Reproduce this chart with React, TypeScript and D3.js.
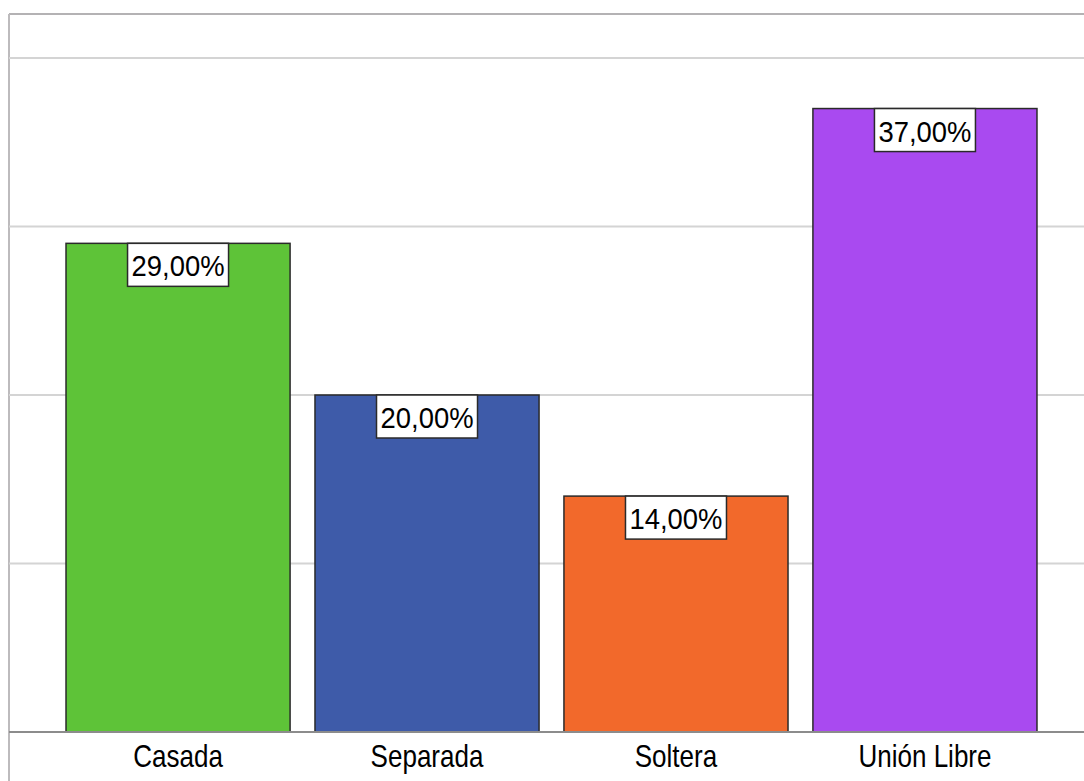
import React from "react";
import * as d3 from "d3";

const categories = ["Casada", "Separada", "Soltera", "Unión Libre"];
const values = [29, 20, 14, 37];
const valueLabels = ["29,00%", "20,00%", "14,00%", "37,00%"];
const colors = ["#5ec338", "#3e5ba9", "#f2692b", "#a94af0"];
const gridTicks = [0, 10, 20, 30, 40];

const W = 1084;
const H = 781;

export default function App() {
  const x = d3
    .scaleBand<string>()
    .domain(categories)
    .range([9, 1094])
    .paddingInner(0.1)
    .paddingOuter(0.229);
  const y = d3.scaleLinear().domain([0, 40]).range([732, 58]);
  const frameTop = 14;
  const left = 9;

  return (
    <svg
      width={W}
      height={H}
      style={{ position: "absolute", left: 0, top: 0, background: "#fff" }}
      fontFamily="'Liberation Sans', Arial, sans-serif"
    >
      {/* frame */}
      <line x1={left} x2={W} y1={frameTop} y2={frameTop} stroke="#b4b2b4" strokeWidth={2} />
      <line x1={left} x2={left} y1={frameTop} y2={H} stroke="#bdbbbd" strokeWidth={2} />
      {/* gridlines */}
      {gridTicks
        .filter((t) => t > 0)
        .map((t) => (
          <line key={t} x1={left} x2={W} y1={y(t)} y2={y(t)} stroke="#d4d4d4" strokeWidth={2} />
        ))}
      {/* bars */}
      {categories.map((c, i) => (
        <rect
          key={c}
          x={x(c)!}
          y={y(values[i])}
          width={x.bandwidth()}
          height={y(0) - y(values[i])}
          fill={colors[i]}
          stroke="#2a2a2a"
          strokeWidth={1.5}
        />
      ))}
      {/* axis line */}
      <line x1={left} x2={W} y1={y(0)} y2={y(0)} stroke="#8c8c8c" strokeWidth={2} />
      {/* value labels */}
      {categories.map((c, i) => {
        const cx = x(c)! + x.bandwidth() / 2;
        const top = y(values[i]);
        const bw = 101;
        const bh = 43;
        return (
          <g key={"l" + c}>
            <rect
              x={cx - bw / 2}
              y={top}
              width={bw}
              height={bh}
              fill="#fff"
              stroke="#2a2a2a"
              strokeWidth={1.5}
            />
            <text
              transform={`translate(${cx},${top + 33}) scale(0.93,1)`}
              textAnchor="middle"
              fontSize={29.5}
              fill="#000"
            >
              {valueLabels[i]}
            </text>
          </g>
        );
      })}
      {/* category labels */}
      {categories.map((c) => (
        <text
          key={"c" + c}
          transform={`translate(${x(c)! + x.bandwidth() / 2},767) scale(0.84,1)`}
          textAnchor="middle"
          fontSize={31}
          fill="#000"
        >
          {c}
        </text>
      ))}
    </svg>
  );
}
